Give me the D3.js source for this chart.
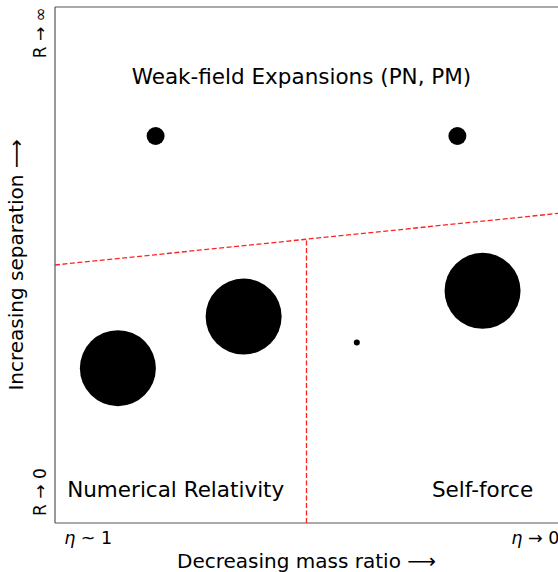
<!DOCTYPE html>
<html>
<head>
<meta charset="utf-8">
<script src="https://cdn.jsdelivr.net/npm/d3@7"></script>
<style>
  body { margin: 0; background: #fff; }
  text { font-family: "DejaVu Sans", sans-serif; fill: #000; }
</style>
</head>
<body>
<div id="my_dataviz"></div>
<script>
// data (axes coordinates, 0..1)
var bodyX = [0.2, 0.8, 0.125, 0.375, 0.6, 0.85];
var bodyY = [0.75, 0.75, 0.30, 0.40, 0.35, 0.45];
var bodyR = [9, 9, 38, 38, 3, 38];

var boundaryX = [0, 1];
var boundaryY = [0.5, 0.6];
var dividerX = [0.5, 0.5];
var dividerY = [0, 0.55];

var xTickVals = [0.066, 0.955];
var xTickLabels = [" ~ 1", " → 0"];
var yTickVals = [0.06, 0.95];
var yTickLabels = ["R → 0", "R → ∞"];

var regionLabels = ["Weak-field Expansions (PN, PM)", "Numerical Relativity", "Self-force"];
var regionX = [0.49, 0.24, 0.85];
var regionY = [0.851, 0.05, 0.05];

// set the dimensions and margins
var margin = {top: 7, right: 0, bottom: 49, left: 55},
    width = 558 - margin.left - margin.right,
    height = 572 - margin.top - margin.bottom;

var svg = d3.select("#my_dataviz")
  .append("svg")
    .attr("width", width + margin.left + margin.right)
    .attr("height", height + margin.top + margin.bottom)
  .append("g")
    .attr("transform", "translate(" + margin.left + "," + margin.top + ")");

var x = d3.scaleLinear().domain([0, 1]).range([0, width]);
var y = d3.scaleLinear().domain([0, 1]).range([height, 0]);

// spines
svg.append("line").attr("x1", 0).attr("x2", 0).attr("y1", 0).attr("y2", height)
  .attr("stroke", "#555").attr("stroke-width", 1.2);
svg.append("line").attr("x1", 0).attr("x2", width).attr("y1", height).attr("y2", height)
  .attr("stroke", "#555").attr("stroke-width", 1.2);
svg.append("line").attr("x1", 0).attr("x2", width).attr("y1", 0).attr("y2", 0)
  .attr("stroke", "#555").attr("stroke-width", 1.2);

// x tick labels (italic eta)
var xt = svg.selectAll("text.xtick")
  .data(xTickVals)
  .enter().append("text")
  .attr("class", "xtick")
  .attr("x", function(d) { return x(d); })
  .attr("y", height + 21)
  .attr("text-anchor", "middle")
  .style("font-size", "17.5px");
xt.append("tspan").style("font-style", "italic").text("η");
xt.append("tspan").text(function(d, i) { return xTickLabels[i]; });

// y tick labels (rotated)
svg.selectAll("text.ytick")
  .data(yTickVals)
  .enter().append("text")
  .attr("class", "ytick")
  .attr("transform", function(d) { return "translate(-9," + y(d) + ") rotate(-90)"; })
  .attr("text-anchor", "middle")
  .style("font-size", "17px")
  .text(function(d, i) { return yTickLabels[i]; });

// axis labels
svg.append("text")
  .attr("x", width / 2)
  .attr("y", height + 45)
  .attr("text-anchor", "middle")
  .style("font-size", "20px")
  .text("Decreasing mass ratio  ⟶");
svg.append("text")
  .attr("transform", "translate(-32," + (height / 2) + ") rotate(-90)")
  .attr("text-anchor", "middle")
  .style("font-size", "20px")
  .text("Increasing separation  ⟶");

// boundaries
var line = d3.line()
  .x(function(d) { return x(d[0]); })
  .y(function(d) { return y(d[1]); });
svg.append("path")
  .datum(d3.zip(boundaryX, boundaryY))
  .attr("d", line)
  .attr("fill", "none")
  .attr("stroke", "#f22")
  .attr("stroke-width", 1.3)
  .attr("stroke-dasharray", "5,2.5");
svg.append("path")
  .datum(d3.zip(dividerX, dividerY))
  .attr("d", line)
  .attr("fill", "none")
  .attr("stroke", "#f22")
  .attr("stroke-width", 1.3)
  .attr("stroke-dasharray", "5,2.5");

// bodies
svg.selectAll("circle")
  .data(bodyX)
  .enter().append("circle")
  .attr("cx", function(d) { return x(d); })
  .attr("cy", function(d, i) { return y(bodyY[i]); })
  .attr("r", function(d, i) { return bodyR[i]; })
  .attr("fill", "#000");

// region labels
svg.selectAll("text.region")
  .data(regionLabels)
  .enter().append("text")
  .attr("class", "region")
  .attr("x", function(d, i) { return x(regionX[i]); })
  .attr("y", function(d, i) { return y(regionY[i]); })
  .attr("text-anchor", "middle")
  .style("font-size", "21.5px")
  .text(function(d) { return d; });
</script>
</body>
</html>
